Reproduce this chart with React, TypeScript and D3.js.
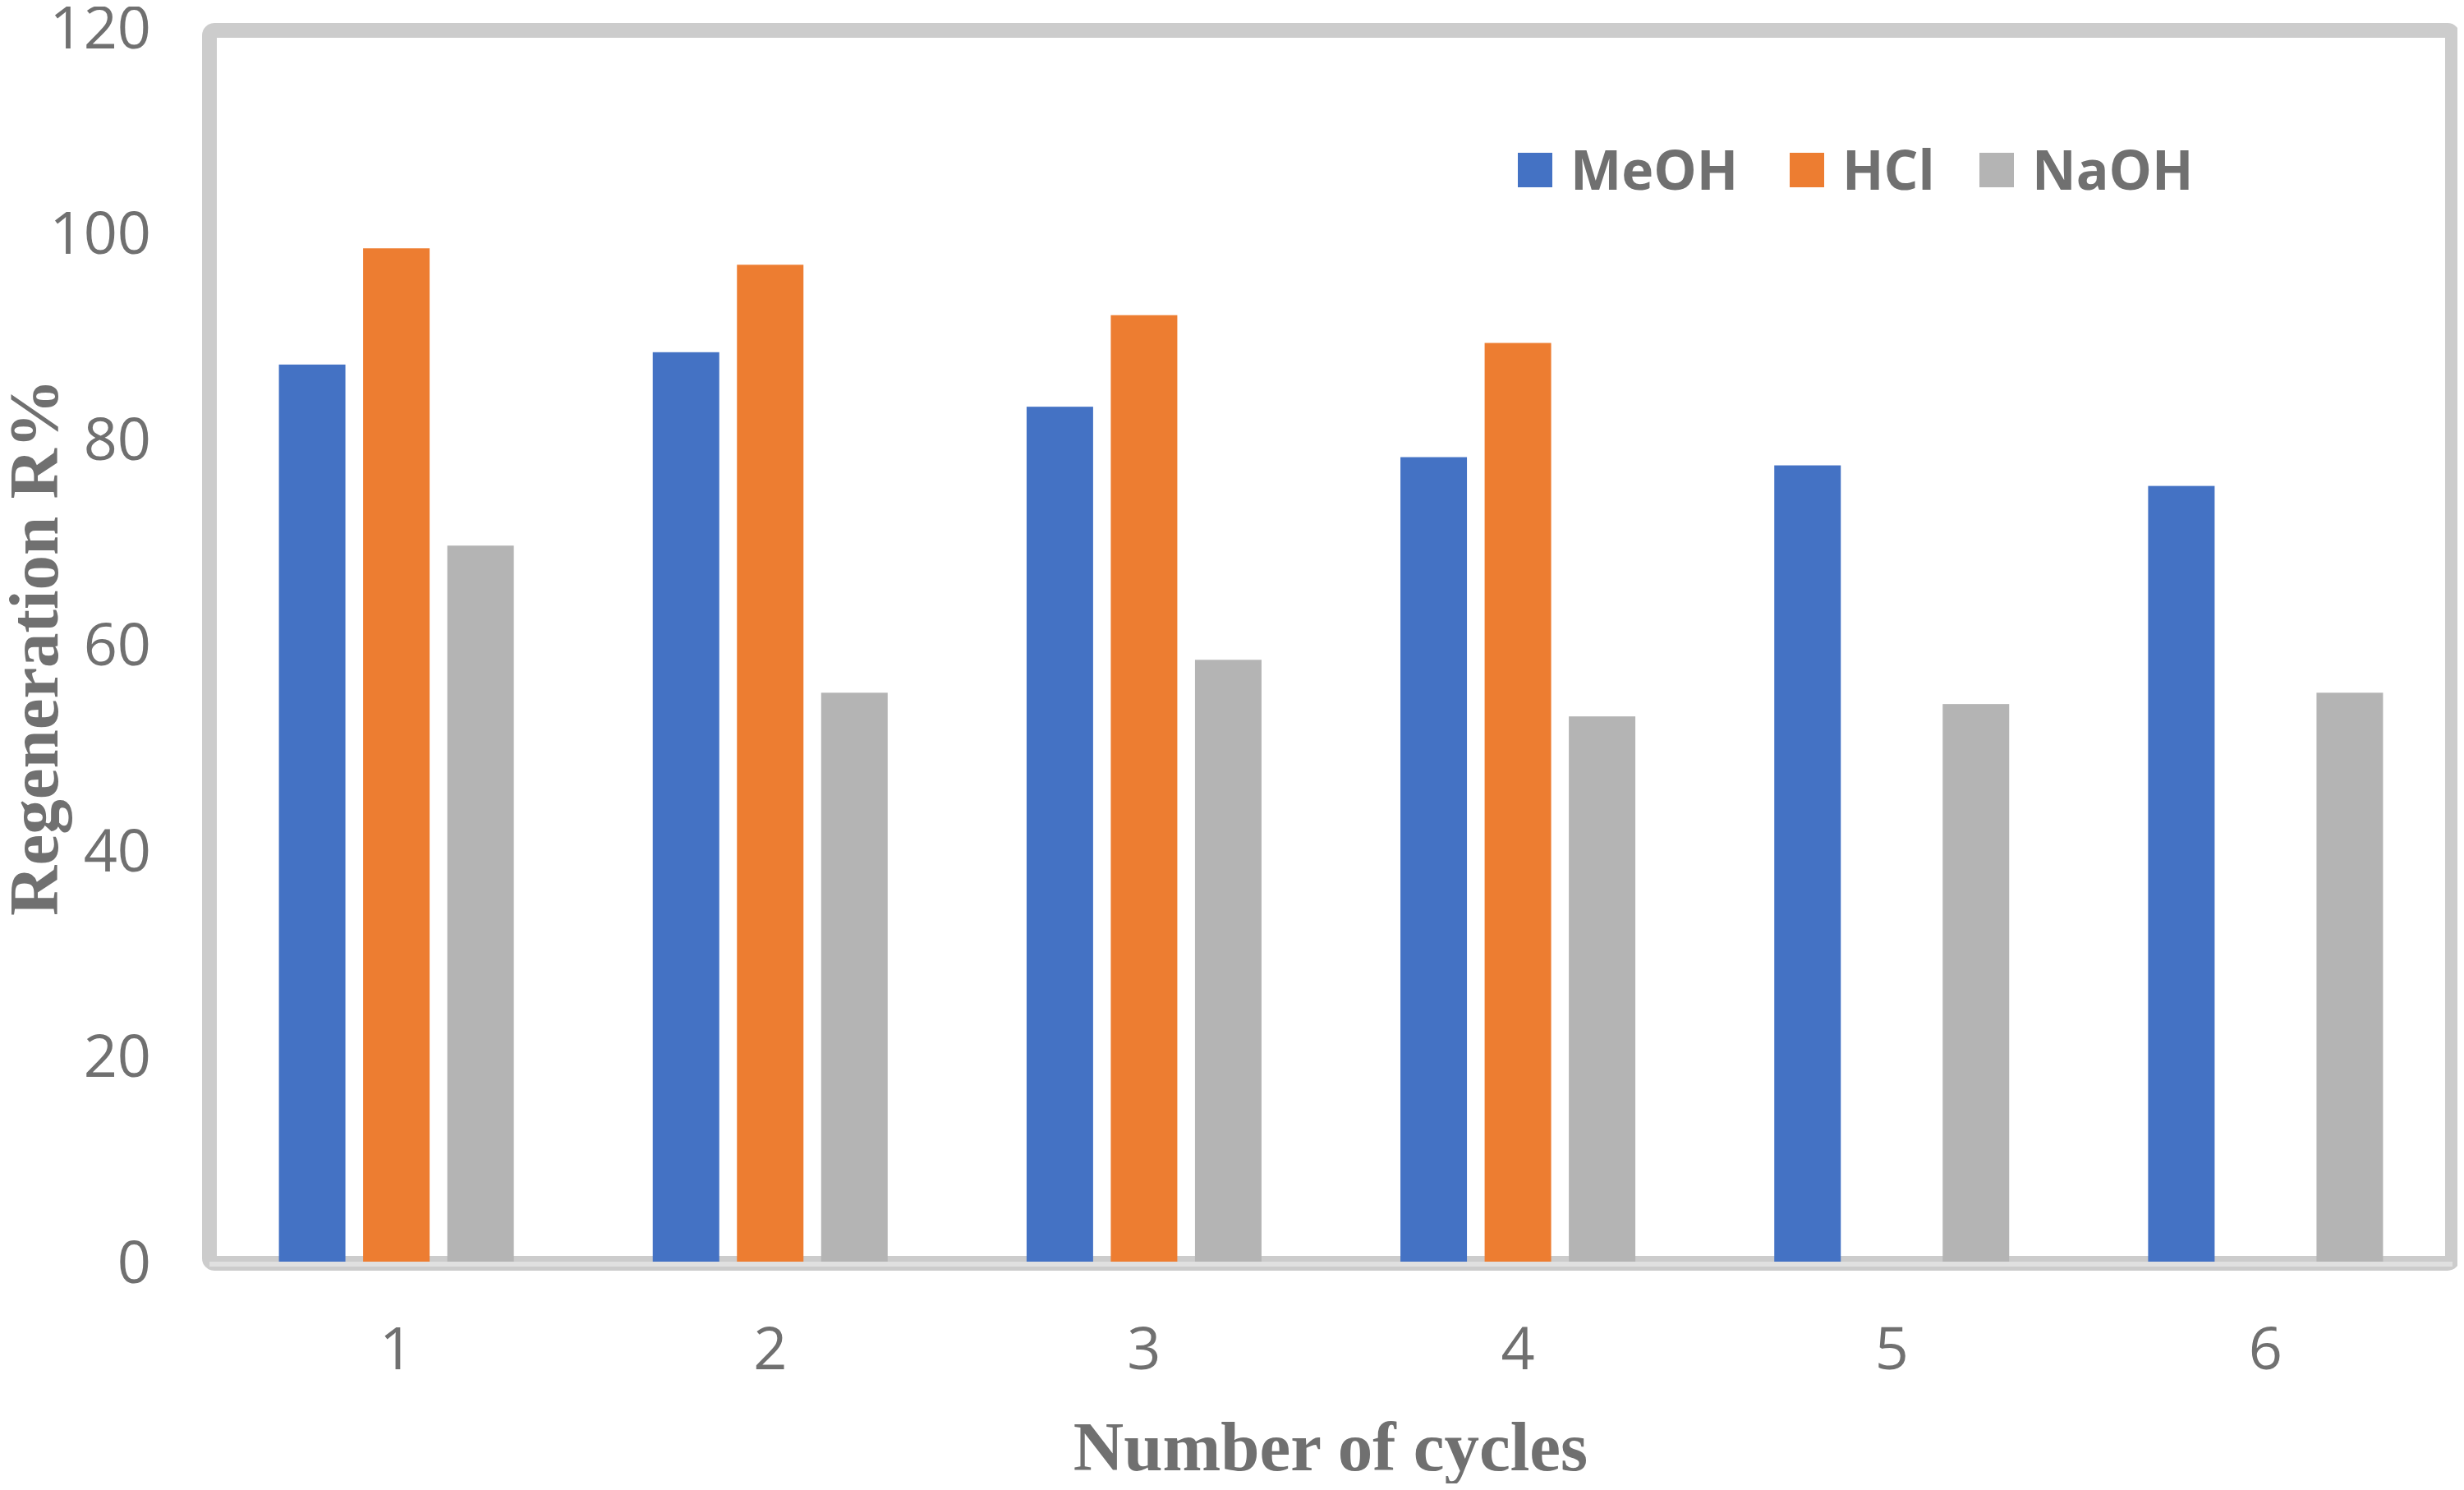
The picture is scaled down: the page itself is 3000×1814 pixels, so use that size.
import { useEffect, useRef } from "react"
import * as d3 from "d3"

const cycles = ["1", "2", "3", "4", "5", "6"]
const seriesNames = ["MeOH", "HCl", "NaOH"]
const meoh = [87.2, 88.4, 83.1, 78.2, 77.4, 75.4]
const hcl = [98.5, 96.9, 92.0, 89.3, 0, 0]
const naoh = [69.6, 55.3, 58.5, 53.0, 54.2, 55.3]
const yTicks = [0, 20, 40, 60, 80, 100, 120]
const colors = ["#4472c4", "#ed7d31", "#b4b4b4"]

export default function App() {
  const svgRef = useRef<SVGSVGElement>(null)

  useEffect(() => {
    if (!svgRef.current) return
    const svg = d3.select(svgRef.current)
    svg.selectAll("*").remove()

    const width = 3000
    const height = 1814
    const left = 255
    const right = 2986
    const top = 33
    const bottom = 1536
    const textColor = "#707070"

    const values = [meoh, hcl, naoh]

    const x0 = d3.scaleBand().domain(cycles).range([left, right]).padding(0)
    const x1 = d3
      .scaleBand()
      .domain(seriesNames)
      .range([0, x0.bandwidth()])
      .paddingInner(0.21)
      .paddingOuter(0.825)
    const y = d3.scaleLinear().domain([0, 120]).range([bottom, top])

    svg.append("rect").attr("width", width).attr("height", height).attr("fill", "white")

    // plot frame
    svg
      .append("rect")
      .attr("x", left)
      .attr("y", 37)
      .attr("width", right - left)
      .attr("height", 1538 - 37)
      .attr("rx", 6)
      .attr("fill", "none")
      .attr("stroke", "#cccccc")
      .attr("stroke-width", 18)

    // bars
    seriesNames.forEach((name, si) => {
      svg
        .append("g")
        .selectAll("rect")
        .data(cycles.map((c, i) => ({ c, v: values[si][i] })))
        .enter()
        .append("rect")
        .attr("x", (d) => (x0(d.c) || 0) + (x1(name) || 0))
        .attr("y", (d) => y(d.v))
        .attr("width", x1.bandwidth())
        .attr("height", (d) => bottom - y(d.v))
        .attr("fill", colors[si])
    })

    // x axis line
    svg
      .append("line")
      .attr("x1", left)
      .attr("x2", right)
      .attr("y1", 1539)
      .attr("y2", 1539)
      .attr("stroke", "#e0e0e0")
      .attr("stroke-width", 6)

    // y tick labels
    svg
      .append("g")
      .selectAll("text")
      .data(yTicks)
      .enter()
      .append("text")
      .attr("x", 184)
      .attr("y", (d) => y(d))
      .attr("dy", "0.36em")
      .attr("text-anchor", "end")
      .attr("font-family", "'Open Sans', sans-serif")
      .attr("font-size", 72)
      .attr("fill", textColor)
      .text((d) => d)

    // x tick labels
    svg
      .append("g")
      .selectAll("text")
      .data(cycles)
      .enter()
      .append("text")
      .attr("x", (d) => (x0(d) || 0) + x0.bandwidth() / 2)
      .attr("y", 1641)
      .attr("dy", "0.36em")
      .attr("text-anchor", "middle")
      .attr("font-family", "'Open Sans', sans-serif")
      .attr("font-size", 72)
      .attr("fill", textColor)
      .text((d) => d)

    // axis titles
    svg
      .append("text")
      .attr("x", 1620)
      .attr("y", 1760)
      .attr("dy", "0.35em")
      .attr("text-anchor", "middle")
      .attr("font-family", "'Liberation Serif', serif")
      .attr("font-weight", "bold")
      .attr("font-size", 85)
      .attr("fill", textColor)
      .text("Number of cycles")

    svg
      .append("text")
      .attr("transform", "translate(40,788) rotate(-90)")
      .attr("dy", "0.35em")
      .attr("text-anchor", "middle")
      .attr("font-family", "'Liberation Serif', serif")
      .attr("font-weight", "bold")
      .attr("font-size", 85)
      .attr("fill", textColor)
      .text("Regeneration R%")

    // legend
    const legendX = [1848, 2179, 2410]
    const legend = svg.append("g")
    seriesNames.forEach((name, i) => {
      legend
        .append("rect")
        .attr("x", legendX[i])
        .attr("y", 186)
        .attr("width", 42)
        .attr("height", 42)
        .attr("fill", colors[i])
      legend
        .append("text")
        .attr("x", legendX[i] + 64)
        .attr("y", 207)
        .attr("dy", "0.36em")
        .attr("font-family", "'Open Sans', sans-serif")
        .attr("font-weight", "bold")
        .attr("font-size", 66)
        .attr("fill", textColor)
        .text(name)
    })
  }, [])

  return (
    <div style={{ margin: -8 }}>
      <svg ref={svgRef} width={3000} height={1814} style={{ display: "block" }} />
    </div>
  )
}
